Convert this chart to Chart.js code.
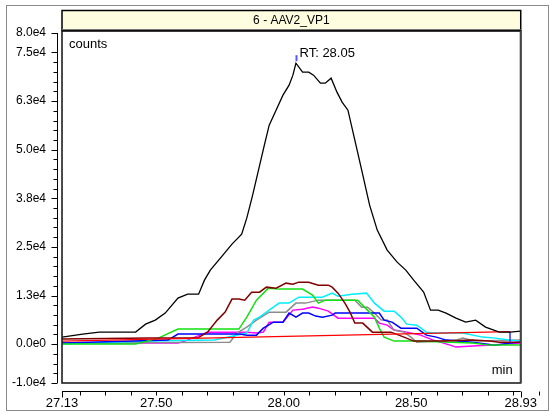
<!DOCTYPE html>
<html>
<head>
<meta charset="utf-8">
<script src="https://cdn.jsdelivr.net/npm/chart.js@4/dist/chart.umd.min.js"></script>
<style>
html, body { margin: 0; padding: 0; background: #fff; overflow: hidden; }
</style>
</head>
<body>
<canvas id="chart" width="550" height="412"></canvas>
<script>
// 标题与坐标轴
const chartTitle = '6 - AAV2_VP1';
const yAxisName = 'counts';
const xAxisName = 'min';
const yTickValues = [80000, 75000, 62500, 50000, 37500, 25000, 12500, 0, -10000];
const yTickLabels = ['8.0e4', '7.5e4', '6.3e4', '5.0e4', '3.8e4', '2.5e4', '1.3e4', '0.0e0', '-1.0e4'];
const xTickValues = [27.13, 27.50, 28.00, 28.50, 28.93];
const xTickLabels = ['27.13', '27.50', '28.00', '28.50', '28.93'];
const peakRT = 28.05;
const peakCounts = 72240;

// 各条色谱曲线 (时间 min, 强度 counts)
const blackTime = [27.130, 27.211, 27.276, 27.419, 27.458, 27.496, 27.535, 27.585, 27.623, 27.666, 27.689, 27.712, 27.758, 27.797, 27.835, 27.855, 27.878, 27.901, 27.924, 27.943, 27.970, 27.997, 28.021, 28.036, 28.048, 28.074, 28.098, 28.117, 28.144, 28.163, 28.186, 28.209, 28.229, 28.252, 28.279, 28.306, 28.337, 28.367, 28.406, 28.445, 28.479, 28.510, 28.549, 28.576, 28.606, 28.637, 28.676, 28.714, 28.753, 28.792, 28.846, 28.888, 28.930];
const blackCounts = [1800, 2570, 3090, 3090, 5140, 6170, 7970, 11830, 12850, 12850, 16450, 19020, 22620, 25710, 28280, 32390, 38300, 44730, 51160, 56300, 60160, 64020, 66590, 69160, 72240, 69930, 69930, 69160, 67100, 67100, 68390, 64790, 62220, 60160, 52450, 44730, 35740, 29310, 24170, 21080, 19020, 16450, 13370, 8740, 8740, 7970, 6680, 5660, 6170, 4370, 3090, 3090, 3340];

const maroonTime = [27.130, 27.469, 27.662, 27.701, 27.739, 27.770, 27.797, 27.824, 27.847, 27.874, 27.905, 27.932, 27.970, 28.009, 28.036, 28.059, 28.098, 28.136, 28.175, 28.190, 28.213, 28.240, 28.260, 28.279, 28.310, 28.348, 28.383, 28.421, 28.472, 28.510, 28.626, 28.741, 28.807, 28.846, 28.930];
const maroonCounts = [1290, 1540, 1540, 3080, 6170, 8220, 11570, 11570, 11310, 13360, 13360, 14650, 14390, 15680, 15420, 15930, 15930, 15160, 15160, 14650, 13110, 10540, 8220, 5400, 5400, 3080, 3080, 3080, 1800, 770, 770, 1030, 770, 510, 510];

const greenTime = [27.130, 27.419, 27.508, 27.585, 27.824, 27.855, 27.893, 27.940, 27.982, 28.074, 28.113, 28.136, 28.163, 28.290, 28.317, 28.356, 28.375, 28.394, 28.433, 28.510, 28.741, 28.807, 28.930];
const greenCounts = [0, 0, 1540, 3860, 3860, 6940, 11310, 14390, 14140, 14140, 12590, 10540, 11310, 11310, 9510, 6940, 4110, 1800, 770, 770, 260, -260, -260];

const blueTime = [27.130, 27.546, 27.585, 27.828, 27.855, 27.893, 27.920, 27.940, 27.959, 27.997, 28.021, 28.048, 28.074, 28.098, 28.125, 28.152, 28.190, 28.202, 28.375, 28.394, 28.425, 28.460, 28.522, 28.560, 28.599, 28.637, 28.741, 28.830, 28.888, 28.930];
const blueCounts = [260, 1030, 2570, 2570, 2310, 2310, 4110, 4880, 5650, 5650, 7970, 6940, 7970, 7970, 7200, 6940, 7450, 7970, 7970, 6170, 5650, 4110, 4110, 2310, 1800, 1030, 510, -260, 260, 510];

const cyanTime = [27.130, 27.469, 27.728, 27.855, 27.882, 27.905, 27.943, 27.982, 28.021, 28.059, 28.152, 28.190, 28.213, 28.267, 28.325, 28.356, 28.394, 28.433, 28.460, 28.483, 28.522, 28.560, 28.587, 28.703, 28.780, 28.830, 28.884, 28.930];
const cyanCounts = [0, 770, 1030, 2830, 6170, 6940, 8740, 10540, 10540, 12080, 12080, 13110, 12340, 12850, 13110, 10540, 8480, 8480, 6940, 5140, 4880, 3080, 2830, 2830, 1800, 1540, 1030, 770];

const grayTime = [27.130, 27.789, 27.816, 27.855, 27.893, 27.943, 28.009, 28.048, 28.086, 28.136, 28.279, 28.306, 28.329, 28.356, 28.383, 28.406, 28.433, 28.472, 28.499, 28.522, 28.676, 28.703, 28.753, 28.930];
const grayCounts = [260, 510, 2830, 4370, 6170, 8220, 8220, 10540, 10540, 11310, 11310, 9510, 9510, 7970, 6170, 6170, 3600, 3080, 1800, 510, 1030, 1540, 770, 1030];

const magentaTime = [27.130, 27.585, 27.612, 27.701, 27.855, 27.893, 27.920, 27.943, 27.997, 28.036, 28.074, 28.113, 28.136, 28.175, 28.213, 28.356, 28.375, 28.406, 28.433, 28.483, 28.537, 28.587, 28.653, 28.676, 28.741, 28.818, 28.930];
const magentaCounts = [260, 260, 770, 3080, 3080, 2830, 3080, 5650, 5650, 8740, 8990, 9510, 9250, 8480, 6680, 6680, 5400, 4880, 3600, 3080, 2310, 1030, -260, -770, -510, -260, 260];

// 基线
const baselineTime = [27.130, 28.888];
const baselineCounts = [770, 3210];
const peakEndTime = [28.888, 28.888];
const peakEndCounts = [3210, 510];

function toPoints(times, counts) {
    return times.map((t, i) => ({ x: t, y: counts[i] }));
}

function makeSet(label, times, counts, color, width) {
    return {
        label: label,
        data: toPoints(times, counts),
        borderColor: color,
        borderWidth: width,
        pointRadius: 0,
        tension: 0,
        fill: false
    };
}

// 画外框、标题栏、轴线和文字
const framePlugin = {
    id: 'frame',
    beforeDraw(chart) {
        const ctx = chart.ctx;
        const a = chart.chartArea;
        ctx.save();
        ctx.fillStyle = '#fff';
        ctx.fillRect(0, 0, chart.width, chart.height);
        ctx.strokeStyle = '#8a8a8a';
        ctx.lineWidth = 1;
        ctx.strokeRect(6.5, 5.5, 542, 405);
        ctx.restore();
    },
    afterDraw(chart) {
        const ctx = chart.ctx;
        const a = chart.chartArea;
        const xs = chart.scales.x;
        const ys = chart.scales.y;
        ctx.save();

        // 标题栏
        ctx.fillStyle = '#fffde0';
        ctx.fillRect(a.left, 10, a.right - a.left, 20);
        ctx.strokeStyle = '#000';
        ctx.lineWidth = 1.5;
        ctx.strokeRect(a.left, 10.5, a.right - a.left, 20);
        ctx.strokeStyle = '#777';
        ctx.lineWidth = 1;
        ctx.beginPath();
        ctx.moveTo(a.left, 29.5);
        ctx.lineTo(a.right, 29.5);
        ctx.stroke();
        ctx.fillStyle = '#000';
        ctx.font = '12px "Liberation Sans", Arial, sans-serif';
        ctx.textAlign = 'center';
        ctx.textBaseline = 'middle';
        ctx.fillText(chartTitle, (a.left + a.right) / 2, 20.5);

        // 绘图区边框
        ctx.strokeStyle = '#111';
        ctx.lineWidth = 1.5;
        ctx.strokeRect(a.left, 31, a.right - a.left, a.bottom - 31);
        ctx.strokeStyle = '#444';
        ctx.lineWidth = 2;
        ctx.beginPath();
        ctx.moveTo(a.right, 31);
        ctx.lineTo(a.right, a.bottom);
        ctx.stroke();

        // Y 轴线与刻度
        const yx = a.left - 4.5;
        ctx.strokeStyle = '#000';
        ctx.lineWidth = 1;
        ctx.beginPath();
        ctx.moveTo(yx, ys.getPixelForValue(80000));
        ctx.lineTo(yx, ys.getPixelForValue(-10000));
        yTickValues.forEach(v => {
            const py = Math.round(ys.getPixelForValue(v)) + 0.5;
            ctx.moveTo(yx - 6, py);
            ctx.lineTo(yx, py);
        });
        for (let v = -7500; v < 75000; v += 2500) {
            if (v % 12500 === 0) continue;
            const py = Math.round(ys.getPixelForValue(v)) + 0.5;
            ctx.moveTo(yx - 4, py);
            ctx.lineTo(yx, py);
        }
        ctx.stroke();

        // X 轴线与刻度
        const xy = a.bottom + 8.5;
        ctx.beginPath();
        ctx.moveTo(xs.getPixelForValue(27.13), xy);
        ctx.lineTo(xs.getPixelForValue(28.93), xy);
        [27.13, 28.93].forEach(v => {
            const px = Math.round(xs.getPixelForValue(v)) + 0.5;
            ctx.moveTo(px, xy);
            ctx.lineTo(px, xy + 6);
        });
        for (let i = 2; i <= 29; i++) {
            const v = 27 + i / 10;
            const px = Math.round(xs.getPixelForValue(v)) + 0.5;
            ctx.moveTo(px, xy);
            ctx.lineTo(px, xy + 4);
        }
        ctx.stroke();

        // 轴名
        ctx.fillStyle = '#000';
        ctx.font = '13px "Liberation Sans", Arial, sans-serif';
        ctx.textAlign = 'left';
        ctx.textBaseline = 'middle';
        ctx.fillText(yAxisName, a.left + 7, 44);
        ctx.textAlign = 'right';
        ctx.fillText(xAxisName, a.right - 8, a.bottom - 13);

        // 保留时间标记
        const rx = Math.round(xs.getPixelForValue(peakRT)) + 0.5;
        const ry = ys.getPixelForValue(peakCounts);
        ctx.strokeStyle = '#5555ff';
        ctx.lineWidth = 2;
        ctx.beginPath();
        ctx.moveTo(rx, ry - 8);
        ctx.lineTo(rx, ry - 2);
        ctx.stroke();
        ctx.fillStyle = '#000';
        ctx.textAlign = 'left';
        ctx.textBaseline = 'middle';
        ctx.fillText('RT: ' + peakRT.toFixed(2), rx + 3, ry - 10);

        ctx.restore();
    }
};

const ctx = document.getElementById('chart').getContext('2d');
new Chart(ctx, {
    type: 'line',
    data: {
        datasets: [
            makeSet('black', blackTime, blackCounts, '#000000', 1.3),
            makeSet('baseline', baselineTime, baselineCounts, '#ff0000', 1.3),
            makeSet('peak end', peakEndTime, peakEndCounts, '#3333ff', 1.5),
            makeSet('maroon', maroonTime, maroonCounts, '#800000', 1.5),
            makeSet('green', greenTime, greenCounts, '#11e011', 1.5),
            makeSet('blue', blueTime, blueCounts, '#0000ff', 1.5),
            makeSet('cyan', cyanTime, cyanCounts, '#00eeff', 1.5),
            makeSet('gray', grayTime, grayCounts, '#8c8c8c', 1.5),
            makeSet('magenta', magentaTime, magentaCounts, '#ff00ff', 1.5)
        ]
    },
    options: {
        responsive: false,
        animation: false,
        devicePixelRatio: 1,
        layout: { padding: { left: 0, top: 33, right: 21, bottom: 0 } },
        plugins: {
            legend: { display: false },
            tooltip: { enabled: false }
        },
        scales: {
            x: {
                type: 'linear',
                min: 27.13,
                max: 28.93,
                grid: { display: false, drawTicks: false },
                border: { display: false },
                afterFit: s => { s.height = 29; },
                afterBuildTicks: s => { s.ticks = xTickValues.map(v => ({ value: v })); },
                ticks: {
                    autoSkip: false,
                    maxRotation: 0,
                    padding: 13,
                    color: '#000',
                    font: { family: '"Liberation Sans", Arial, sans-serif', size: 13 },
                    callback: (v) => xTickLabels[xTickValues.indexOf(v)]
                }
            },
            y: {
                type: 'linear',
                min: -10000,
                max: 80000,
                grid: { display: false, drawTicks: false },
                border: { display: false },
                afterFit: s => { s.width = 62; },
                afterBuildTicks: s => { s.ticks = yTickValues.map(v => ({ value: v })); },
                ticks: {
                    autoSkip: false,
                    padding: 16,
                    color: '#000',
                    font: { family: '"Liberation Sans", Arial, sans-serif', size: 12 },
                    callback: (v) => yTickLabels[yTickValues.indexOf(v)]
                }
            }
        }
    },
    plugins: [framePlugin]
});
</script>
</body>
</html>
